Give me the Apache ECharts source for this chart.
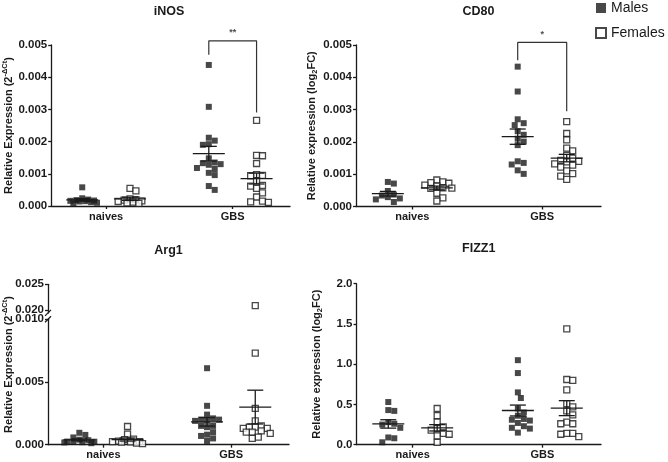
<!DOCTYPE html>
<html><head><meta charset="utf-8">
<script src="https://cdn.jsdelivr.net/npm/echarts@6/dist/echarts.min.js"></script>
<style>html,body{margin:0;padding:0;background:#fff}#c{width:668px;height:462px}</style>
</head><body><div id="c"></div>
<script>
// ---------------- data ----------------
const categories = ['naives', 'GBS'];
const sexes = ['Males', 'Females'];

const inosMaleNaive   = [0.00058, 0.00024, 0.00020, 0.00018, 0.00017, 0.00016, 0.00015, 0.00014, 0.00012, 0.00010, 0.00008];
const inosFemaleNaive = [0.00055, 0.00047, 0.00022, 0.00020, 0.00018, 0.00016, 0.00014, 0.00012, 0.00010, 0.00008];
const inosMaleGBS     = [0.00438, 0.00308, 0.00212, 0.00203, 0.00192, 0.00190, 0.00148, 0.00135, 0.00133, 0.00130, 0.00128, 0.00118, 0.00115, 0.00103, 0.00096, 0.00062, 0.00050];
const inosFemaleGBS   = [0.00266, 0.00157, 0.00156, 0.00132, 0.00097, 0.00095, 0.00094, 0.00078, 0.00064, 0.00062, 0.00055, 0.00041, 0.00028, 0.00015, 0.00013, 0.00011];

const cd80MaleNaive   = [0.00076, 0.00071, 0.00048, 0.00037, 0.00034, 0.00029, 0.00025, 0.00022, 0.00014];
const cd80FemaleNaive = [0.00082, 0.00076, 0.00074, 0.00072, 0.00066, 0.00063, 0.00058, 0.00057, 0.00056, 0.00041, 0.00027, 0.00017];
const cd80MaleGBS     = [0.00433, 0.00356, 0.00270, 0.00258, 0.00252, 0.00233, 0.00222, 0.00210, 0.00201, 0.00190, 0.00140, 0.00135, 0.00130, 0.00112, 0.00101];
const cd80FemaleGBS   = [0.00263, 0.00226, 0.00206, 0.00181, 0.00172, 0.00158, 0.00150, 0.00143, 0.00140, 0.00138, 0.00132, 0.00128, 0.00122, 0.00110, 0.00102, 0.00094, 0.00084];

const arg1MaleNaive   = [0.00095, 0.00078, 0.00058, 0.00040, 0.00036, 0.00025, 0.00024, 0.00022, 0.00020, 0.00018, 0.00012];
const arg1FemaleNaive = [0.00145, 0.00085, 0.00045, 0.00040, 0.00028, 0.00025, 0.00024, 0.00022, 0.00020, 0.00012, 0.00008];
const arg1MaleGBS     = [0.0061, 0.0031, 0.0024, 0.0021, 0.0020, 0.0020, 0.0019, 0.0019, 0.0015, 0.0015, 0.0014, 0.0010, 0.0008, 0.0007, 0.0005, 0.0003];
const arg1FemaleGBS   = [0.0209, 0.0073, 0.0029, 0.0019, 0.0015, 0.0014, 0.0014, 0.0013, 0.0013, 0.0011, 0.0010, 0.0010, 0.0009, 0.0006, 0.0005];

const fizzMaleNaive   = [0.53, 0.43, 0.42, 0.28, 0.26, 0.25, 0.21, 0.09, 0.08, 0.03];
const fizzFemaleNaive = [0.45, 0.36, 0.28, 0.22, 0.20, 0.18, 0.14, 0.13, 0.11, 0.03];
const fizzMaleGBS     = [1.05, 0.89, 0.65, 0.58, 0.45, 0.40, 0.36, 0.32, 0.31, 0.30, 0.27, 0.23, 0.21, 0.20, 0.15];
const fizzFemaleGBS   = [1.44, 0.81, 0.80, 0.68, 0.51, 0.47, 0.42, 0.37, 0.28, 0.26, 0.26, 0.14, 0.14, 0.13, 0.10];

const inosTicks    = [0, 0.001, 0.002, 0.003, 0.004, 0.005];
const cd80Ticks    = [0, 0.001, 0.002, 0.003, 0.004, 0.005];
const arg1LowTicks = [0, 0.005, 0.010];
const arg1HighTicks = [0.020, 0.025];
const fizzTicks    = [0, 0.5, 1.0, 1.5, 2.0];

// significance brackets (GBS males vs females): [left leg end, bar level, right leg end]
const inosBracket = [0.0047, 0.00513, 0.0029];
const cd80Bracket = [0.00453, 0.00508, 0.00295];
const inosStars = '**';
const cd80Stars = '*';

// ---------------- layout / style ----------------
const FONT = '"Liberation Sans", Arial, Helvetica, sans-serif';
const INK = '#1a1a1a';
const CAT_POS = [23, 76];   // category centres in x-axis units (0..100)
const SEX_OFF = 10;         // male left / female right of centre
const L = {
  inos:   {left: 48,    top: 45,    w: 242,   h: 161},
  cd80:   {left: 356,   top: 45,    w: 245,   h: 161.5},
  arg1Hi: {left: 48,    top: 284.3, w: 241,   h: 28.6},
  arg1Lo: {left: 48,    top: 319.3, w: 241,   h: 125.4},
  arg1All:{left: 48,    top: 284.3, w: 241,   h: 160.4},
  fizz:   {left: 356.5, top: 283.7, w: 244.5, h: 161}
};

const grids = [], xAxes = [], yAxes = [], series = [], graphics = [];
const lineStyle = {color: INK, width: 1.3};

function meanSem(a) {
  const n = a.length;
  const m = a.reduce((s, v) => s + v, 0) / n;
  const sd = Math.sqrt(a.reduce((s, v) => s + (v - m) * (v - m), 0) / (n - 1));
  return [m, sd / Math.sqrt(n)];
}

// simple beeswarm: horizontal pixel offsets so squares do not pile up
function swarm(vals, pxPerVal) {
  const s = 6, maxOff = 15;
  const order = vals.map((v, i) => i).sort((a, b) => vals[b] - vals[a]);
  const cands = [0];
  for (let k = 1; k * s / 2 <= maxOff; k++) cands.push(k * s / 2, -k * s / 2);
  const placed = [], off = new Array(vals.length);
  for (const i of order) {
    const y = vals[i] * pxPerVal;
    let best = 0, bestScore = -Infinity;
    for (const c of cands) {
      let minD = Infinity;
      for (const p of placed) { const d = Math.hypot(p.x - c, p.y - y); if (d < minD) minD = d; }
      if (minD >= s) { best = c; break; }
      if (minD > bestScore) { bestScore = minD; best = c; }
    }
    placed.push({x: best, y});
    off[i] = best;
  }
  return off;
}

function addGrid(box, y, opts) {
  opts = opts || {};
  grids.push({left: box.left, top: box.top, width: box.w, height: box.h});
  const gi = grids.length - 1;
  const showX = opts.showX !== false;
  xAxes.push({
    gridIndex: gi, type: 'value', min: 0, max: 100, show: showX,
    axisLine: {show: showX, onZero: false, lineStyle},
    axisTick: {show: showX, customValues: CAT_POS, length: 3, lineStyle},
    axisLabel: {show: showX, customValues: CAT_POS, margin: 5,
      formatter: v => { const i = CAT_POS.indexOf(v); return i >= 0 ? categories[i] : ''; },
      fontFamily: FONT, fontWeight: 'bold', fontSize: 11, color: INK},
    splitLine: {show: false}
  });
  const onlyName = !!opts.onlyName;
  yAxes.push({
    gridIndex: gi, type: 'value', min: y.min, max: y.max,
    axisLine: {show: !onlyName, onZero: false, lineStyle},
    axisTick: {show: !onlyName, customValues: y.ticks, length: 3, lineStyle},
    axisLabel: {show: !onlyName, customValues: y.ticks, margin: 4,
      formatter: v => v.toFixed(y.dec),
      fontFamily: FONT, fontWeight: 'bold', fontSize: 11.5, color: INK},
    splitLine: {show: false},
    name: opts.name || '', nameLocation: 'middle', nameGap: opts.nameGap || 33,
    nameTextStyle: {fontFamily: FONT, fontWeight: 'bold', fontSize: 11, color: INK,
      rich: {
        sup: {fontFamily: FONT, fontWeight: 'bold', fontSize: 7.5, color: INK, padding: [0, 0, 8, 0]},
        sub: {fontFamily: FONT, fontWeight: 'bold', fontSize: 7.5, color: INK, padding: [6, 0, 0, 0]}
      }}
  });
  return gi;
}

function pointX(g, sex, offPx, box) {
  return CAT_POS[g] + (sex ? 1 : -1) * SEX_OFF + offPx * 100 / box.w;
}

// sets: [[maleNaive, femaleNaive], [maleGBS, femaleGBS]]
function addPoints(gi, box, y, sets) {
  const pxPerVal = box.h / (y.max - y.min);
  for (let sex = 0; sex < 2; sex++) {
    const data = [];
    for (let g = 0; g < 2; g++) {
      const vals = sets[g][sex].filter(v => v >= y.min && v <= y.max);
      const offs = swarm(vals, pxPerVal);
      vals.forEach((v, i) => data.push([pointX(g, sex, offs[i], box), v]));
    }
    series.push({
      type: 'scatter', name: sexes[sex], xAxisIndex: gi, yAxisIndex: gi,
      symbol: 'rect', symbolSize: 6, data, z: 2, silent: true,
      itemStyle: sex ? {color: '#fff', borderColor: INK, borderWidth: 1.3} : {color: INK}
    });
  }
}

function addMeans(gi, sets) {
  const data = [];
  for (let g = 0; g < 2; g++) for (let sex = 0; sex < 2; sex++) {
    const [m, se] = meanSem(sets[g][sex]);
    data.push([CAT_POS[g] + (sex ? 1 : -1) * SEX_OFF, m, m - se, m + se]);
  }
  series.push({
    type: 'custom', xAxisIndex: gi, yAxisIndex: gi, z: 5, silent: true,
    encode: {x: 0, y: [1, 2, 3]}, data,
    renderItem: (params, api) => {
      const c = api.coord([api.value(0), api.value(1)]);
      const lo = api.coord([api.value(0), api.value(2)]);
      const hi = api.coord([api.value(0), api.value(3)]);
      const st = {stroke: INK, lineWidth: 1.3};
      return {type: 'group', children: [
        {type: 'line', shape: {x1: c[0] - 16, y1: c[1], x2: c[0] + 16, y2: c[1]}, style: st},
        {type: 'line', shape: {x1: c[0], y1: lo[1], x2: c[0], y2: hi[1]}, style: st},
        {type: 'line', shape: {x1: c[0] - 8, y1: lo[1], x2: c[0] + 8, y2: lo[1]}, style: st},
        {type: 'line', shape: {x1: c[0] - 8, y1: hi[1], x2: c[0] + 8, y2: hi[1]}, style: st}
      ]};
    }
  });
}

function addBracket(gi, br, stars) {
  const xm = CAT_POS[1] - SEX_OFF, xf = CAT_POS[1] + SEX_OFF;
  series.push({
    type: 'line', xAxisIndex: gi, yAxisIndex: gi, clip: false, silent: true,
    symbol: 'none', data: [[xm, br[0]], [xm, br[1]], [xf, br[1]], [xf, br[2]]],
    lineStyle: {color: '#333', width: 1.2}, z: 4
  });
  series.push({
    type: 'scatter', xAxisIndex: gi, yAxisIndex: gi, clip: false, silent: true,
    symbolSize: 1, itemStyle: {color: 'rgba(0,0,0,0)'}, data: [[(xm + xf) / 2, br[1]]],
    label: {show: true, position: 'top', distance: 3, formatter: stars,
      fontFamily: FONT, fontSize: 9, fontWeight: 'bold', color: INK}
  });
}

function addTitle(box, text, yPx) {
  graphics.push({type: 'text', x: box.left + box.w / 2, y: yPx,
    style: {text, textAlign: 'center', textVerticalAlign: 'middle',
      font: 'bold 12.5px ' + FONT, fill: INK}});
}

// ---- iNOS ----
const yInos = {min: 0, max: 0.005, ticks: inosTicks, dec: 3};
const gInos = addGrid(L.inos, yInos, {name: 'Relative Expression (2{sup|-ΔCt})', nameGap: 33});
const setsInos = [[inosMaleNaive, inosFemaleNaive], [inosMaleGBS, inosFemaleGBS]];
addPoints(gInos, L.inos, yInos, setsInos);
addMeans(gInos, setsInos);
addBracket(gInos, inosBracket, inosStars);
addTitle(L.inos, 'iNOS', 12);

// ---- CD80 ----
const yCd80 = {min: 0, max: 0.005, ticks: cd80Ticks, dec: 3};
const gCd80 = addGrid(L.cd80, yCd80, {name: 'Relative expression (log{sub|2}FC)', nameGap: 33});
const setsCd80 = [[cd80MaleNaive, cd80FemaleNaive], [cd80MaleGBS, cd80FemaleGBS]];
addPoints(gCd80, L.cd80, yCd80, setsCd80);
addMeans(gCd80, setsCd80);
addBracket(gCd80, cd80Bracket, cd80Stars);
addTitle(L.cd80, 'CD80', 12);

// ---- Arg1 (broken axis) ----
const setsArg1 = [[arg1MaleNaive, arg1FemaleNaive], [arg1MaleGBS, arg1FemaleGBS]];
const yArgHi = {min: 0.0195, max: 0.025, ticks: arg1HighTicks, dec: 3};
const gArgHi = addGrid(L.arg1Hi, yArgHi, {showX: false});
addPoints(gArgHi, L.arg1Hi, yArgHi, setsArg1);
const yArgLo = {min: 0, max: 0.010, ticks: arg1LowTicks, dec: 3};
const gArgLo = addGrid(L.arg1Lo, yArgLo, {});
addPoints(gArgLo, L.arg1Lo, yArgLo, setsArg1);
addMeans(gArgLo, setsArg1);
addGrid(L.arg1All, {min: 0, max: 1, ticks: [], dec: 0},
  {showX: false, onlyName: true, name: 'Relative Expression (2{sup|-ΔCt})', nameGap: 35});
addTitle(L.arg1All, 'Arg1', 251);
// break marks on the y axis
[L.arg1Hi.top + L.arg1Hi.h, L.arg1Lo.top].forEach(yy => {
  graphics.push({type: 'line', shape: {x1: L.arg1Lo.left - 3, y1: yy + 3, x2: L.arg1Lo.left + 3, y2: yy - 3},
    style: {stroke: INK, lineWidth: 1.3}});
});

// ---- FIZZ1 ----
const yFizz = {min: 0, max: 2, ticks: fizzTicks, dec: 1};
const gFizz = addGrid(L.fizz, yFizz, {name: 'Relative expression (log{sub|2}FC)', nameGap: 33});
const setsFizz = [[fizzMaleNaive, fizzFemaleNaive], [fizzMaleGBS, fizzFemaleGBS]];
addPoints(gFizz, L.fizz, yFizz, setsFizz);
addMeans(gFizz, setsFizz);
addTitle(L.fizz, 'FIZZ1', 249);

const chart = echarts.init(document.getElementById('c'), null, {renderer: 'canvas'});
chart.setOption({
  animation: false,
  backgroundColor: '#fff',
  grid: grids, xAxis: xAxes, yAxis: yAxes, series,
  graphic: graphics,
  legend: {
    data: sexes.map(n => ({name: n, icon: 'rect'})),
    orient: 'vertical', left: 590, top: -4, itemWidth: 10, itemHeight: 10, itemGap: 11,
    textStyle: {fontFamily: FONT, fontSize: 14, color: INK}, selectedMode: false
  }
});
</script></body></html>
